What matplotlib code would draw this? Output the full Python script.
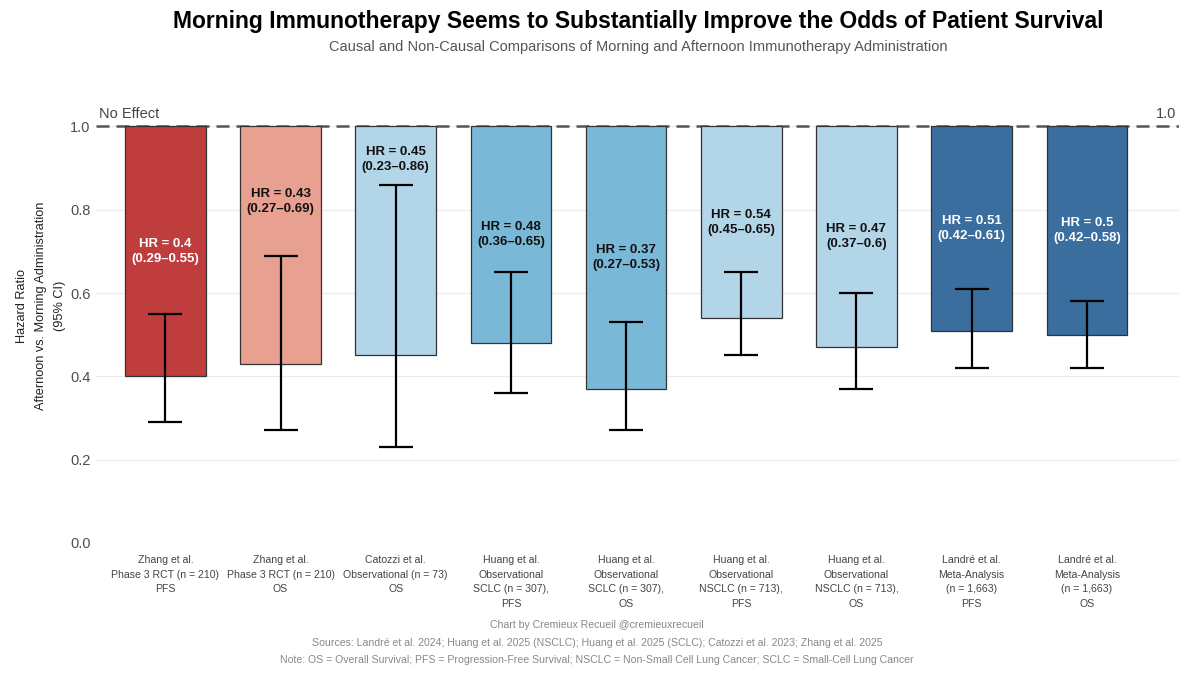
import matplotlib
matplotlib.use("Agg")
import matplotlib.pyplot as plt
import numpy as np

plt.rcParams["font.family"] = ["Liberation Sans", "DejaVu Sans"]

# data
studies = [
    "Zhang et al.\nPhase 3 RCT (n = 210)\nPFS",
    "Zhang et al.\nPhase 3 RCT (n = 210)\nOS",
    "Catozzi et al.\nObservational (n = 73)\nOS",
    "Huang et al.\nObservational\nSCLC (n = 307),\nPFS",
    "Huang et al.\nObservational\nSCLC (n = 307),\nOS",
    "Huang et al.\nObservational\nNSCLC (n = 713),\nPFS",
    "Huang et al.\nObservational\nNSCLC (n = 713),\nOS",
    "Landré et al.\nMeta-Analysis\n(n = 1,663)\nPFS",
    "Landré et al.\nMeta-Analysis\n(n = 1,663)\nOS",
]
hr = [0.40, 0.43, 0.45, 0.48, 0.37, 0.54, 0.47, 0.51, 0.50]
ci_low = [0.29, 0.27, 0.23, 0.36, 0.27, 0.45, 0.37, 0.42, 0.42]
ci_high = [0.55, 0.69, 0.86, 0.65, 0.53, 0.65, 0.60, 0.61, 0.58]
hr_text = ["0.4", "0.43", "0.45", "0.48", "0.37", "0.54", "0.47", "0.51", "0.5"]
ci_text = ["0.29–0.55", "0.27–0.69", "0.23–0.86", "0.36–0.65", "0.27–0.53",
           "0.45–0.65", "0.37–0.6", "0.42–0.61", "0.42–0.58"]
colors = ["#C03D3E", "#E8A090", "#B2D5E8", "#7AB8D8", "#7AB8D8",
          "#B2D5E8", "#B2D5E8", "#3A6E9E", "#3A6E9E"]
text_colors = ["white", "#111111", "#111111", "#111111", "#111111",
               "#111111", "#111111", "white", "white"]

fig = plt.figure(figsize=(12, 6.75), dpi=100)
ax = fig.add_axes([0.0802, 0.1956, 0.9023, 0.6604])

x = np.arange(len(hr))
hr_a = np.array(hr)
ax.bar(x, 1 - hr_a, bottom=hr_a, width=0.7, color=colors,
       edgecolor="#333333", linewidth=0.9, zorder=2)
ax.errorbar(x, hr_a, yerr=[hr_a - np.array(ci_low), np.array(ci_high) - hr_a],
            fmt="none", ecolor="black", elinewidth=1.6, capsize=12.2,
            capthick=1.6, zorder=3)

# label sits halfway up the bar unless the CI whisker is in the way
for i in range(len(hr)):
    y = (hr[i] + 1) / 2
    if y < ci_high[i] + 0.05:
        y = min(ci_high[i] + 0.13, 0.92)
    ax.text(x[i], y, f"HR = {hr_text[i]}\n({ci_text[i]})", ha="center",
            va="center", fontsize=9.5, fontweight="bold",
            color=text_colors[i], linespacing=1.3, zorder=4)

ax.axhline(1.0, color="#555555", linestyle=(0, (5.2, 2.8)), linewidth=1.8, zorder=1)
ax.text(-0.58, 1.012, "No Effect", ha="left", va="bottom", fontsize=10.5,
        color="#444444")
ax.text(8.78, 1.012, "1.0", ha="right", va="bottom", fontsize=10.5,
        color="#444444")

ax.set_xlim(-0.6, 8.8)
ax.set_ylim(0, 1.07)
ax.set_yticks([0.0, 0.2, 0.4, 0.6, 0.8, 1.0])
ax.set_yticklabels(["0.0", "0.2", "0.4", "0.6", "0.8", "1.0"])
ax.set_xticks(x)
ax.set_xticklabels(studies, fontsize=7.6, color="#444444", linespacing=1.55)
ax.tick_params(axis="y", labelsize=10.5, colors="#4D4D4D", length=0, pad=4)
ax.tick_params(axis="x", length=0, pad=9)
ax.grid(axis="y", color="#EBEBEB", linewidth=0.8, zorder=0)
ax.set_axisbelow(True)
for s in ax.spines.values():
    s.set_visible(False)

ax.set_ylabel("Hazard Ratio\nAfternoon vs. Morning Administration\n(95% CI)",
              fontsize=9.2, color="#222222", linespacing=1.8)
ax.yaxis.set_label_coords(-0.0279, 0.532)

fig.text(0.5315, 0.968, "Morning Immunotherapy Seems to Substantially Improve the Odds of Patient Survival",
         ha="center", va="center", fontsize=16.5, fontweight="bold", color="black")
fig.text(0.5315, 0.930, "Causal and Non-Causal Comparisons of Morning and Afternoon Immunotherapy Administration",
         ha="center", va="center", fontsize=10.5, color="#555555")

caption = ["Chart by Cremieux Recueil @cremieuxrecueil",
           "Sources: Landré et al. 2024; Huang et al. 2025 (NSCLC); Huang et al. 2025 (SCLC); Catozzi et al. 2023; Zhang et al. 2025",
           "Note: OS = Overall Survival; PFS = Progression-Free Survival; NSCLC = Non-Small Cell Lung Cancer; SCLC = Small-Cell Lung Cancer"]
for k, line in enumerate(caption):
    fig.text(0.4975, 1 - (625 + 17.5 * k) / 675, line, ha="center", va="center",
             fontsize=7.55, color="#888888")

fig.savefig("out.png", dpi=100)
